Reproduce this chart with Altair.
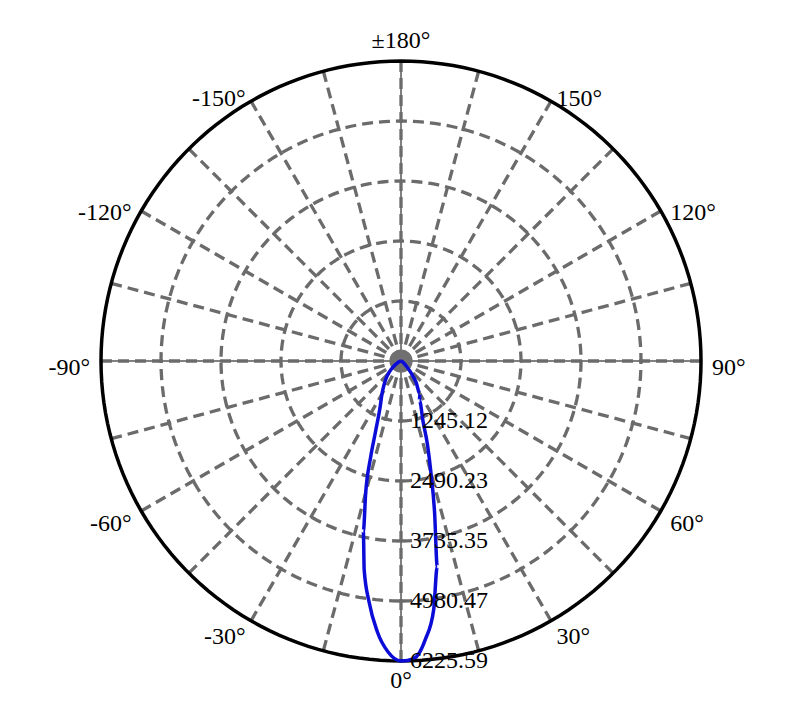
import altair as alt
import pandas as pd

# ---------------- data ----------------
OUTER = 6225.59
ring_values = [1245.12, 2490.23, 3735.35, 4980.47]
ring_label_values = [1245.12, 2490.23, 3735.35, 4980.47, 6225.59]
ring_label_texts = ["1245.12", "2490.23", "3735.35", "4980.47", "6225.59"]
spoke_angles = list(range(0, 360, 15))
axis_angles = [0, 90]
angle_label_angles = [0, 30, 60, 90, 120, 150, 180, -150, -120, -90, -60, -30]
angle_label_texts = ["0°", "30°", "60°", "90°", "120°", "150°", "±180°",
                     "-150°", "-120°", "-90°", "-60°", "-30°"]

curve_angles = [-180, -90, -80, -70, -60, -55, -50, -45, -40, -35, -30, -25,
                -20, -17.5, -15, -12.5, -10, -7.5, -5, -2.5, 0, 2.5, 5, 7.5,
                10, 12.5, 15, 17.5, 20, 25, 30, 35, 40, 45, 50, 60, 70, 80,
                90, 180]
curve_values = [0, 0, 10, 40, 100, 170, 260, 370, 490, 620, 790, 1010,
                1530, 2100, 2830, 3610, 4400, 5055, 5640, 6050, 6225.59, 6180,
                5800, 5200, 4330, 3220, 2400, 1830, 1340, 910, 780, 550, 330,
                170, 90, 30, 10, 0, 0, 0]

circle_steps = list(range(0, 361, 2))

# ---------------- layout ----------------
PX = 300 / OUTER          # pixels per intensity unit
W, H = 795, 695
CX, CY = 393, 353         # pole position inside the plot area
x_dom = [-CX / PX, (W - CX) / PX]
y_dom = [-(H - CY) / PX, CY / PX]
xs = alt.Scale(domain=x_dom, nice=False, zero=False)
ys = alt.Scale(domain=y_dom, nice=False, zero=False)

FONT = "Liberation Serif"
FS = 24
GRID = "#6b6b6b"
DASH = [11, 6]
GW = 3.3


def X(f):
    return alt.X(f, type="quantitative", scale=xs, axis=None)


def Y(f):
    return alt.Y(f, type="quantitative", scale=ys, axis=None)


SIN = "sin(datum.a*PI/180)"
COS = "cos(datum.a*PI/180)"

# rings
rings_df = pd.DataFrame([{"r": r, "a": t} for r in ring_values for t in circle_steps])
rings = alt.Chart(rings_df).transform_calculate(
    x=f"datum.r*{SIN}", y=f"-datum.r*{COS}"
).mark_line(stroke=GRID, strokeWidth=GW, strokeDash=DASH).encode(
    x=X("x"), y=Y("y"), detail="r:N", order="a:Q"
)

outer_df = pd.DataFrame([{"r": OUTER, "a": t} for t in circle_steps])
outer = alt.Chart(outer_df).transform_calculate(
    x=f"datum.r*{SIN}", y=f"-datum.r*{COS}"
).mark_line(stroke="black", strokeWidth=3.5).encode(
    x=X("x"), y=Y("y"), order="a:Q"
)

# thin black axes lines
axes_df = pd.DataFrame({"a": axis_angles})
axes = alt.Chart(axes_df).transform_calculate(
    x=f"{OUTER}*{SIN}", y=f"-{OUTER}*{COS}",
    x2=f"-{OUTER}*{SIN}", y2=f"{OUTER}*{COS}"
).mark_rule(color="black", strokeWidth=1).encode(
    x=X("x"), y=Y("y"), x2="x2:Q", y2="y2:Q"
)

# spokes
spokes_df = pd.DataFrame({"a": spoke_angles})
spokes = alt.Chart(spokes_df).transform_calculate(
    x0="0", y0="0", x=f"{OUTER}*{SIN}", y=f"-{OUTER}*{COS}"
).mark_rule(color=GRID, strokeWidth=GW, strokeDash=DASH).encode(
    x=X("x0"), y=Y("y0"), x2="x:Q", y2="y:Q"
)

# pole disk
pole = alt.Chart(pd.DataFrame({"r": [0]})).transform_calculate(
    x="0", y="0"
).mark_circle(size=540, color="#707070", opacity=1).encode(x=X("x"), y=Y("y"))

# curve
curve_df = pd.DataFrame({"a": curve_angles, "v": curve_values})
curve = alt.Chart(curve_df).transform_calculate(
    x=f"datum.v*{SIN}", y=f"-datum.v*{COS}"
).mark_line(color="#0c0cd8", strokeWidth=3.5, interpolate="monotone").encode(
    x=X("x"), y=Y("y"), order="a:Q"
)

# radial value labels
rl_df = pd.DataFrame({"v": ring_label_values, "t": ring_label_texts})
rlabels = alt.Chart(rl_df).transform_calculate(
    x="0", y="-datum.v"
).mark_text(align="left", baseline="middle", dx=9, font=FONT, fontSize=FS,
            color="black").encode(x=X("x"), y=Y("y"), text="t:N")

# angle labels
al_df = pd.DataFrame({"a": angle_label_angles, "t": angle_label_texts})
LR = OUTER * 311 / 300
LC = OUTER * 320 / 300
base = alt.Chart(al_df).transform_calculate(
    x=f"{LR}*{SIN}", y=f"-{LR}*{COS}",
    xc=f"{LC}*{SIN}", yc=f"-{LC}*{COS}"
)
right_lab = base.transform_filter("datum.a > 0 && datum.a < 180").mark_text(
    align="left", baseline="middle", dy=7, font=FONT, fontSize=FS, color="black"
).encode(x=X("x"), y=Y("y"), text="t:N")
left_lab = base.transform_filter("datum.a < 0").mark_text(
    align="right", baseline="middle", dy=7, font=FONT, fontSize=FS, color="black"
).encode(x=X("x"), y=Y("y"), text="t:N")
mid_lab = base.transform_filter("datum.a == 0 || datum.a == 180").mark_text(
    align="center", baseline="middle", font=FONT, fontSize=FS, color="black"
).encode(x=X("xc"), y=Y("yc"), text="t:N")

chart = alt.layer(
    axes, rings, spokes, outer, pole, curve, rlabels, right_lab, left_lab, mid_lab
).properties(
    width=W, height=H, padding=0, background="white",
    autosize=alt.AutoSizeParams(type="none")
).configure_view(stroke=None)

chart.save("out.html", embed_options={"renderer": "svg", "actions": False})
